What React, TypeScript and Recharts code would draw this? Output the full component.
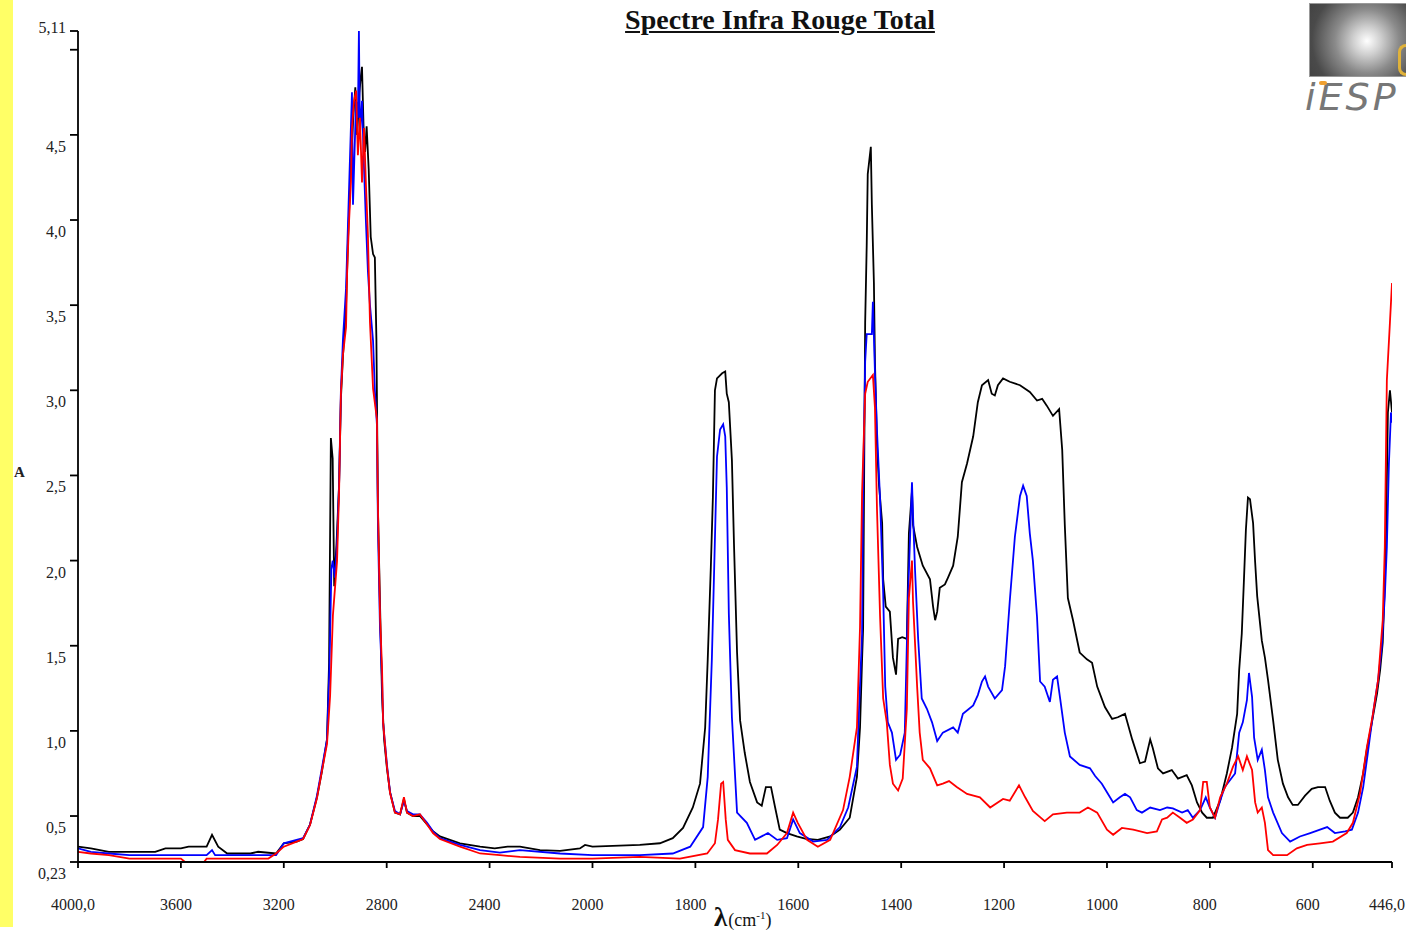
import { LineChart, Line, XAxis, YAxis } from "recharts";

// absorbance, [wavenumber cm-1, A]
const blackSpectrum: [number, number][] = [
  [4000, 0.32], [3950, 0.31], [3880, 0.29], [3700, 0.29], [3660, 0.31], [3600, 0.31],
  [3570, 0.32], [3500, 0.32], [3479, 0.39], [3455, 0.32], [3420, 0.28], [3330, 0.28],
  [3300, 0.29], [3230, 0.28], [3200, 0.34], [3150, 0.35], [3125, 0.365], [3098, 0.45],
  [3071, 0.61], [3052, 0.76], [3032, 0.95], [3024, 1.4], [3017, 2.72], [3010, 2.6],
  [3004, 1.85], [2995, 2.1], [2985, 2.45], [2978, 2.95], [2970, 3.2], [2958, 3.5],
  [2950, 3.9], [2940, 4.3], [2930, 4.6], [2922, 4.78], [2915, 4.5], [2906, 4.75],
  [2900, 4.85], [2896, 4.9], [2890, 4.55], [2884, 4.4], [2878, 4.55], [2870, 4.3],
  [2862, 3.9], [2853, 3.8], [2846, 3.78], [2840, 3.3], [2834, 2.3], [2826, 1.75],
  [2818, 1.2], [2810, 0.95], [2799, 0.78], [2787, 0.64], [2768, 0.52], [2748, 0.51],
  [2733, 0.6], [2721, 0.52], [2698, 0.5], [2671, 0.5], [2643, 0.45], [2620, 0.41],
  [2593, 0.38], [2515, 0.34], [2437, 0.32], [2380, 0.31], [2330, 0.32], [2282, 0.32],
  [2204, 0.3], [2126, 0.295], [2049, 0.31], [2029, 0.33], [2000, 0.32], [1908, 0.33],
  [1869, 0.34], [1844, 0.37], [1824, 0.43], [1805, 0.55], [1791, 0.69], [1781, 1.02],
  [1776, 1.42], [1770, 1.96], [1766, 2.37], [1762, 3.0], [1758, 3.07], [1748, 3.1],
  [1742, 3.11], [1739, 2.98], [1735, 2.93], [1729, 2.59], [1725, 2.1], [1719, 1.46],
  [1713, 1.06], [1704, 0.87], [1694, 0.7], [1680, 0.58], [1671, 0.56], [1663, 0.67],
  [1653, 0.67], [1645, 0.55], [1636, 0.42], [1622, 0.4], [1603, 0.38], [1583, 0.365],
  [1562, 0.36], [1538, 0.38], [1519, 0.42], [1500, 0.49], [1486, 0.73], [1480, 1.02],
  [1476, 1.42], [1474, 1.6], [1470, 3.4], [1467, 3.85], [1465, 4.27], [1459, 4.43],
  [1457, 4.09], [1453, 3.63], [1451, 3.17], [1447, 2.68], [1443, 2.44], [1437, 2.22],
  [1435, 1.89], [1430, 1.73], [1422, 1.7], [1416, 1.43], [1410, 1.33], [1406, 1.54],
  [1398, 1.55], [1389, 1.54], [1385, 2.16], [1379, 2.41], [1377, 2.21], [1369, 2.08],
  [1358, 1.97], [1344, 1.89], [1338, 1.73], [1334, 1.65], [1330, 1.7], [1325, 1.84],
  [1315, 1.86], [1309, 1.9], [1299, 1.97], [1290, 2.14], [1282, 2.46], [1272, 2.57],
  [1260, 2.73], [1251, 2.93], [1243, 3.03], [1231, 3.06], [1224, 2.98], [1218, 2.97],
  [1212, 3.03], [1202, 3.07], [1189, 3.05], [1169, 3.03], [1150, 2.99], [1136, 2.94],
  [1126, 2.95], [1117, 2.91], [1105, 2.85], [1093, 2.89], [1087, 2.65], [1082, 2.21],
  [1076, 1.78], [1066, 1.65], [1053, 1.46], [1039, 1.42], [1029, 1.4], [1019, 1.26],
  [1004, 1.14], [990, 1.07], [979, 1.08], [965, 1.1], [951, 0.95], [936, 0.81],
  [926, 0.82], [916, 0.95], [911, 0.9], [901, 0.78], [891, 0.75], [874, 0.77],
  [862, 0.72], [845, 0.74], [835, 0.68], [825, 0.58], [815, 0.52], [806, 0.49],
  [794, 0.49], [780, 0.59], [767, 0.75], [757, 0.9], [747, 1.1], [743, 1.36],
  [738, 1.57], [734, 1.87], [730, 2.18], [726, 2.37], [722, 2.36], [716, 2.22],
  [712, 1.99], [708, 1.79], [699, 1.53], [693, 1.43], [687, 1.3], [677, 1.06],
  [668, 0.83], [658, 0.69], [648, 0.61], [639, 0.565], [629, 0.565], [615, 0.62],
  [602, 0.66], [590, 0.67], [576, 0.67], [567, 0.59], [557, 0.52], [547, 0.49],
  [532, 0.49], [522, 0.52], [512, 0.61], [502, 0.75], [495, 0.89], [485, 1.05],
  [475, 1.22], [469, 1.36], [464, 1.52], [462, 1.69], [458, 2.08], [454, 2.87],
  [450, 3.0], [446, 2.87],
];

const blueSpectrum: [number, number][] = [
  [4000, 0.31], [3950, 0.29], [3880, 0.28], [3800, 0.27], [3500, 0.27], [3479, 0.3],
  [3467, 0.27], [3230, 0.27], [3200, 0.34], [3125, 0.37], [3098, 0.45], [3071, 0.62],
  [3052, 0.78], [3032, 0.95], [3022, 1.4], [3015, 1.95], [3010, 2.0], [3001, 1.9],
  [2993, 2.1], [2985, 2.45], [2978, 3.0], [2970, 3.3], [2958, 3.6], [2950, 4.0],
  [2940, 4.5], [2935, 4.75], [2931, 4.09], [2925, 4.4], [2919, 4.7], [2912, 4.6],
  [2908, 5.11], [2904, 4.5], [2896, 4.7], [2888, 4.3], [2881, 4.0], [2873, 3.7],
  [2865, 3.5], [2853, 3.29], [2846, 3.0], [2838, 2.8], [2834, 2.2], [2826, 1.6],
  [2818, 1.3], [2814, 1.05], [2799, 0.8], [2787, 0.64], [2768, 0.53], [2748, 0.51],
  [2733, 0.59], [2721, 0.53], [2698, 0.51], [2671, 0.51], [2643, 0.46], [2620, 0.41],
  [2593, 0.37], [2515, 0.33], [2437, 0.3], [2360, 0.285], [2282, 0.3], [2126, 0.28],
  [2000, 0.27], [1908, 0.27], [1844, 0.28], [1810, 0.32], [1785, 0.435], [1776, 0.73],
  [1768, 1.42], [1764, 1.89], [1758, 2.61], [1752, 2.77], [1746, 2.8], [1742, 2.73],
  [1739, 2.43], [1735, 1.69], [1729, 1.08], [1719, 0.52], [1700, 0.46], [1684, 0.36],
  [1659, 0.4], [1641, 0.36], [1622, 0.37], [1610, 0.48], [1597, 0.4], [1571, 0.35],
  [1544, 0.36], [1519, 0.435], [1503, 0.55], [1486, 0.79], [1482, 1.12], [1476, 1.57],
  [1474, 2.4], [1470, 3.17], [1467, 3.33], [1457, 3.33], [1455, 3.52], [1451, 3.11],
  [1447, 2.76], [1441, 2.36], [1435, 1.81], [1431, 1.26], [1426, 1.05], [1418, 0.99],
  [1410, 0.83], [1402, 0.86], [1393, 0.99], [1387, 1.76], [1379, 2.46], [1377, 2.27],
  [1373, 1.94], [1367, 1.54], [1360, 1.19], [1350, 1.13], [1340, 1.05], [1330, 0.94],
  [1319, 0.99], [1299, 1.02], [1290, 0.99], [1280, 1.1], [1260, 1.15], [1251, 1.21],
  [1243, 1.29], [1237, 1.32], [1231, 1.26], [1218, 1.19], [1204, 1.24], [1198, 1.38],
  [1189, 1.76], [1179, 2.14], [1169, 2.38], [1163, 2.44], [1156, 2.38], [1150, 2.16],
  [1144, 2.0], [1136, 1.67], [1130, 1.29], [1121, 1.26], [1111, 1.17], [1105, 1.3],
  [1097, 1.32], [1091, 1.19], [1082, 0.99], [1072, 0.85], [1053, 0.8], [1033, 0.78],
  [1023, 0.735], [1010, 0.69], [1000, 0.64], [988, 0.58], [975, 0.61], [965, 0.63],
  [955, 0.61], [942, 0.535], [932, 0.52], [916, 0.55], [897, 0.535], [883, 0.55],
  [872, 0.545], [854, 0.52], [843, 0.535], [833, 0.49], [819, 0.535], [808, 0.61],
  [800, 0.55], [790, 0.49], [780, 0.59], [771, 0.67], [761, 0.71], [751, 0.75],
  [743, 0.99], [736, 1.05], [728, 1.18], [724, 1.34], [718, 1.2], [714, 0.96],
  [707, 0.83], [699, 0.89], [693, 0.77], [687, 0.61], [677, 0.52], [660, 0.4],
  [644, 0.35], [625, 0.38], [605, 0.4], [586, 0.42], [572, 0.435], [557, 0.4],
  [537, 0.41], [524, 0.42], [512, 0.52], [502, 0.67], [493, 0.87], [483, 1.1],
  [473, 1.3], [466, 1.49], [460, 1.79], [456, 2.08], [452, 2.57], [448, 2.87],
  [446, 2.81],
];

const redSpectrum: [number, number][] = [
  [4000, 0.29], [3950, 0.28], [3880, 0.27], [3800, 0.25], [3600, 0.25], [3584, 0.23],
  [3510, 0.23], [3500, 0.25], [3400, 0.25], [3260, 0.25], [3230, 0.28], [3200, 0.32],
  [3150, 0.35], [3125, 0.365], [3098, 0.447], [3071, 0.606], [3052, 0.764], [3032, 0.923],
  [3020, 1.205], [3009, 1.68], [2993, 1.997], [2985, 2.41], [2978, 2.98], [2970, 3.21],
  [2958, 3.37], [2954, 3.68], [2947, 3.97], [2939, 4.22], [2935, 4.54], [2927, 4.7],
  [2919, 4.76], [2912, 4.38], [2904, 4.6], [2896, 4.22], [2888, 4.54], [2881, 4.22],
  [2873, 3.91], [2865, 3.4], [2853, 3.01], [2838, 2.83], [2834, 2.32], [2826, 1.68],
  [2818, 1.36], [2814, 1.05], [2799, 0.79], [2787, 0.635], [2768, 0.52], [2748, 0.51],
  [2733, 0.61], [2721, 0.52], [2698, 0.5], [2671, 0.51], [2643, 0.45], [2620, 0.4],
  [2593, 0.365], [2515, 0.32], [2437, 0.28], [2360, 0.27], [2282, 0.26], [2126, 0.25],
  [2000, 0.25], [1908, 0.26], [1830, 0.25], [1777, 0.28], [1762, 0.34], [1756, 0.48],
  [1750, 0.69], [1746, 0.7], [1741, 0.48], [1737, 0.36], [1723, 0.3], [1694, 0.28],
  [1661, 0.28], [1641, 0.33], [1622, 0.4], [1610, 0.52], [1601, 0.46], [1583, 0.36],
  [1562, 0.32], [1538, 0.36], [1513, 0.535], [1500, 0.73], [1486, 1.02], [1480, 1.61],
  [1476, 2.4], [1470, 2.98], [1465, 3.05], [1455, 3.09], [1451, 2.9], [1447, 2.3],
  [1441, 1.67], [1435, 1.19], [1428, 1.05], [1422, 0.8], [1416, 0.69], [1406, 0.65],
  [1397, 0.72], [1389, 1.13], [1385, 1.78], [1379, 2.0], [1377, 1.76], [1369, 1.26],
  [1364, 0.99], [1358, 0.83], [1344, 0.78], [1330, 0.68], [1319, 0.69], [1307, 0.705],
  [1292, 0.67], [1272, 0.63], [1247, 0.61], [1227, 0.55], [1202, 0.6], [1189, 0.59],
  [1171, 0.68], [1159, 0.61], [1144, 0.53], [1121, 0.47], [1105, 0.51], [1078, 0.52],
  [1053, 0.52], [1037, 0.55], [1019, 0.52], [1000, 0.42], [988, 0.39], [971, 0.43],
  [949, 0.42], [922, 0.4], [903, 0.41], [893, 0.48], [883, 0.49], [872, 0.52],
  [858, 0.49], [845, 0.46], [833, 0.48], [819, 0.535], [813, 0.7], [806, 0.7],
  [800, 0.55], [790, 0.49], [780, 0.61], [767, 0.69], [755, 0.79], [745, 0.85],
  [736, 0.77], [728, 0.85], [718, 0.77], [712, 0.58], [707, 0.52], [699, 0.55],
  [693, 0.46], [687, 0.3], [677, 0.27], [650, 0.27], [631, 0.31], [611, 0.33],
  [586, 0.34], [561, 0.35], [534, 0.4], [522, 0.46], [508, 0.635], [495, 0.9],
  [483, 1.1], [473, 1.3], [464, 1.65], [460, 2.08], [456, 3.06], [450, 3.4],
  [446, 3.63],
];

const xTickWavenumbers = [4000, 3600, 3200, 2800, 2400, 2000, 1800, 1600, 1400, 1200, 1000, 800, 600, 446];
const yTickValues = [0.23, 0.5, 1, 1.5, 2, 2.5, 3, 3.5, 4, 4.5, 5, 5.11];

// the spectrometer doubles the scale below 2000 cm-1
const toAxis = (wn: number) => (wn >= 2000 ? (4000 - wn) / 2 : 3000 - wn);
const fromAxis = (u: number) => (u <= 1000 ? 4000 - 2 * u : 3000 - u);

const toRows = (s: [number, number][]) => s.map(([wn, a]) => ({ u: toAxis(wn), a }));
const blackRows = toRows(blackSpectrum);
const blueRows = toRows(blueSpectrum);
const redRows = toRows(redSpectrum);

const serif = "'Liberation Serif', 'DejaVu Serif', serif";

const fmt = (v: number) => {
  const wn = Math.round(fromAxis(v));
  return wn === 4000 || wn === 446 ? `${wn},0` : `${wn}`;
};

const XTick = ({ x, payload }: any) => (
  <text x={x - 5} y={910} textAnchor="middle" fontFamily={serif} fontSize={16} fill="#222">
    {fmt(payload.value)}
  </text>
);

const YTick = ({ y, payload }: any) => {
  const v = payload.value;
  if (v === 5) return null;
  const label = v === 0.23 || v === 5.11 ? String(v).replace(".", ",") : v.toFixed(1).replace(".", ",");
  return (
    <text x={66} y={v === 5.11 ? y + 2 : y + 17} textAnchor="end" fontFamily={serif} fontSize={16} fill="#222">
      {label}
    </text>
  );
};

export default function App() {
  return (
    <div style={{ position: "fixed", left: 0, top: 0, width: 1406, height: 940, background: "#fff", overflow: "hidden" }}>
      <div style={{ position: "absolute", left: 0, top: 0, width: 13, height: 927, background: "#ffff66" }} />
      <div
        style={{
          position: "absolute",
          left: 780,
          top: 4,
          transform: "translateX(-50%)",
          fontFamily: serif,
          fontWeight: "bold",
          fontSize: 28,
          textDecoration: "underline",
          whiteSpace: "nowrap",
          color: "#111",
        }}
      >
        Spectre Infra Rouge Total
      </div>
      <div
        style={{
          position: "absolute",
          left: 1309,
          top: 3,
          width: 100,
          height: 72,
          border: "1px solid #999",
          background: "radial-gradient(circle at 57px 37px, #ffffff 0px, #cfcfcf 14px, #8a8a8a 32px, #4a4a4a 55px, #3c3c3c 80px)",
        }}
      />
      <div style={{ position: "absolute", left: 1398, top: 44, width: 14, height: 26, borderRadius: 8, border: "3px solid #e0b23a", borderRight: "none" }} />
      <div
        style={{
          position: "absolute",
          left: 1305,
          top: 75,
          fontFamily: "'DejaVu Sans', sans-serif",
          fontStyle: "italic",
          fontWeight: 300,
          fontSize: 38,
          letterSpacing: 3,
          color: "#777",
          whiteSpace: "nowrap",
        }}
      >
        iESP
      </div>
      <div style={{ position: "absolute", left: 1319, top: 81, width: 8, height: 4, borderRadius: 3, background: "#f0a030" }} />
      <div style={{ position: "absolute", left: 14, top: 464, fontFamily: serif, fontWeight: "bold", fontSize: 15, color: "#222" }}>A</div>
      <div style={{ position: "absolute", left: 714, top: 902, fontFamily: serif, color: "#111", whiteSpace: "nowrap" }}>
        <span style={{ fontWeight: "bold", fontSize: 27 }}>λ</span>
        <span style={{ fontSize: 18, marginLeft: 1 }}>
          (cm<sup style={{ fontSize: 11 }}>-1</sup>)
        </span>
      </div>
      <div style={{ position: "absolute", left: 0, top: 0 }}>
        <LineChart width={1406} height={940} margin={{ top: 31, right: 14, bottom: 38, left: 18 }}>
          <XAxis
            type="number"
            dataKey="u"
            domain={[0, 2554]}
            ticks={xTickWavenumbers.map(toAxis)}
            interval={0}
            height={40}
            tick={<XTick />}
            tickSize={6}
            axisLine={{ stroke: "#000", strokeWidth: 1.8 }}
            tickLine={{ stroke: "#000", strokeWidth: 1.8 }}
            allowDataOverflow
          />
          <YAxis
            type="number"
            domain={[0.23, 5.11]}
            ticks={yTickValues}
            interval={0}
            width={60}
            tick={<YTick />}
            tickSize={8}
            axisLine={{ stroke: "#000", strokeWidth: 1.8 }}
            tickLine={{ stroke: "#000", strokeWidth: 1.8 }}
            allowDataOverflow
          />
          <Line data={blackRows} dataKey="a" type="linear" stroke="#000000" strokeWidth={1.8} dot={false} isAnimationActive={false} />
          <Line data={blueRows} dataKey="a" type="linear" stroke="#0000ff" strokeWidth={1.8} dot={false} isAnimationActive={false} />
          <Line data={redRows} dataKey="a" type="linear" stroke="#ff0000" strokeWidth={1.8} dot={false} isAnimationActive={false} />
        </LineChart>
      </div>
    </div>
  );
}
